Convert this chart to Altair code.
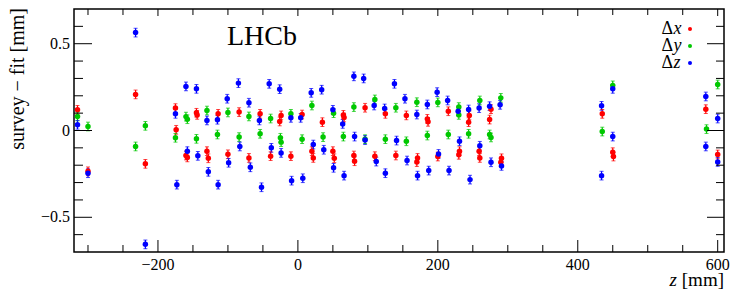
import altair as alt
import pandas as pd

# ---------------- data ----------------
series_names = ["Δx", "Δy", "Δz"]
series_letters = ["x", "y", "z"]
series_colors = ["#ff0000", "#00c800", "#0000ff"]

z_x = [-315, -300, -232, -218, -175, -174, -160, -158, -145, -144, -130, -128,
       -114, -100, -84, -70, -54, -39, -24, -26, -10, 6, 20, 22, 35, 50, 52,
       65, 66, 80, 81, 96, 110, 125, 140, 155, 171, 170, 185, 186, 200, 215,
       230, 231, 245, 244, 259, 260, 276, 274, 291, 290, 435, 450, 451, 583, 600]
d_x = [0.119, -0.235, 0.208, -0.192, 0.129, 0.004, -0.144, -0.155, 0.102, 0.090, -0.119, -0.160,
       0.096, -0.137, 0.106, -0.158, 0.096, -0.148, 0.087, 0.052, -0.148, 0.092, -0.119, -0.158,
       0.048, -0.119, -0.160, 0.090, 0.075, -0.144, -0.177, 0.131, -0.148, 0.096, -0.144, 0.087,
       -0.158, -0.182, 0.067, 0.050, -0.150, 0.111, -0.140, -0.119, 0.087, 0.048, -0.119, -0.158,
       0.123, 0.063, -0.160, -0.183, 0.096, -0.125, -0.150, 0.123, -0.138]

z_y = [-315, -300, -232, -218, -175, -160, -158, -145, -130, -115, -100, -84, -70, -54,
       -39, -25, -24, -10, 6, 20, 36, 51, 65, 80, 96, 110, 125, 140, 155, 170, 185, 200,
       215, 230, 230, 244, 260, 274, 276, 290, 435, 450, 584, 600]
d_y = [0.081, 0.023, -0.092, 0.027, -0.042, 0.080, 0.065, -0.048, 0.115, -0.023, 0.104, -0.038,
       0.081, -0.019, 0.069, -0.042, -0.067, 0.096, -0.050, 0.144, -0.038, 0.100, -0.035, 0.135,
       -0.050, 0.179, -0.050, 0.131, -0.062, 0.163, -0.029, 0.162, -0.023, 0.135, 0.090, -0.019,
       0.173, -0.023, -0.040, 0.188, -0.006, 0.260, 0.008, 0.265]

z_z = [-315, -300, -232, -218, -175, -173, -160, -158, -145, -143, -130, -128, -115, -114,
       -101, -99, -85, -83, -70, -68, -55, -52, -41, -38, -26, -24, -10, -9, 4, 7, 19, 22,
       34, 37, 50, 51, 64, 66, 80, 81, 94, 96, 109, 112, 124, 125, 138, 141, 153, 156, 170,
       171, 185, 187, 199, 201, 214, 216, 229, 231, 244, 246, 259, 260, 274, 276, 289, 291,
       434, 434, 450, 450, 583, 583, 600, 600]
d_z = [0.033, -0.246, 0.564, -0.656, 0.096, -0.312, 0.254, -0.119, 0.240, -0.146, 0.058, -0.238,
       0.062, -0.312, 0.183, -0.186, 0.273, -0.092, 0.160, -0.212, 0.058, -0.327, 0.269, -0.100,
       0.238, -0.129, 0.073, -0.289, 0.073, -0.275, 0.217, -0.081, 0.235, -0.111, 0.119, -0.215,
       0.038, -0.260, 0.312, -0.035, 0.300, -0.055, 0.144, -0.179, 0.127, -0.246, 0.269, -0.058,
       0.183, -0.173, 0.092, -0.260, 0.150, -0.231, 0.221, -0.135, 0.173, -0.231, 0.111, -0.062,
       0.121, -0.283, 0.129, -0.088, 0.140, -0.183, 0.148, -0.204, 0.142, -0.260, 0.240, -0.035,
       0.196, -0.092, 0.069, -0.181]

err = 0.025

x_major = [-200, 0, 200, 400, 600]
x_tick_labels = ["−200", "0", "200", "400", "600"]
x_minor = [-300, -250, -150, -100, -50, 50, 100, 150, 250, 300, 350, 450, 500, 550]
y_major = [-0.5, 0, 0.5]
y_tick_labels = ["−0.5", "0", "0.5"]
y_minor = [-0.6, -0.4, -0.3, -0.2, -0.1, 0.1, 0.2, 0.3, 0.4, 0.6]

x_domain = [-320, 609]
y_domain = [-0.7, 0.7]

W, H = 650, 243
SERIF = "Liberation Serif"

# ---------------- table ----------------
frames = []
for name, zs, ds in [(series_names[0], z_x, d_x), (series_names[1], z_y, d_y), (series_names[2], z_z, d_z)]:
    frames.append(pd.DataFrame({"series": name, "z": zs, "d": ds}))
df = pd.concat(frames, ignore_index=True)
df["lo"] = df["d"] - err
df["hi"] = df["d"] + err

xs = alt.Scale(domain=x_domain, nice=False, zero=False)
ys = alt.Scale(domain=y_domain, nice=False, zero=False)
cs = alt.Scale(domain=series_names, range=series_colors)

base = alt.Chart(df)
col = alt.Color("series:N", scale=cs, legend=None)

bars = base.mark_rule(strokeWidth=1.2).encode(
    x=alt.X("z:Q", scale=xs, axis=None),
    y=alt.Y("lo:Q", scale=ys, axis=None),
    y2="hi:Q",
    color=col,
)
caps_lo = base.mark_tick(orient="horizontal", size=4, thickness=1).encode(
    x=alt.X("z:Q", scale=xs, axis=None),
    y=alt.Y("lo:Q", scale=ys, axis=None),
    color=col,
)
caps_hi = base.mark_tick(orient="horizontal", size=4, thickness=1).encode(
    x=alt.X("z:Q", scale=xs, axis=None),
    y=alt.Y("hi:Q", scale=ys, axis=None),
    color=col,
)
points = base.mark_circle(size=30, opacity=1).encode(
    x=alt.X("z:Q", scale=xs, axis=None),
    y=alt.Y("d:Q", scale=ys, axis=None),
    color=col,
)

# ---------------- inward frame ticks (ROOT style), lengths converted to data units ----------------
kx = (x_domain[1] - x_domain[0]) / W
ky = (y_domain[1] - y_domain[0]) / H

xt_rows = []
for vals, lb, lt in [(x_major, 12, 7), (x_minor, 7, 6)]:
    for v in vals:
        xt_rows.append({"t": v, "a": y_domain[0], "b": y_domain[0] + lb * ky})
        xt_rows.append({"t": v, "a": y_domain[1], "b": y_domain[1] - lt * ky})
yt_rows = []
for vals, ll, lr in [(y_major, 18, 17), (y_minor, 9, 8)]:
    for v in vals:
        yt_rows.append({"t": v, "a": x_domain[0], "b": x_domain[0] + ll * kx})
        yt_rows.append({"t": v, "a": x_domain[1], "b": x_domain[1] - lr * kx})

xticks = alt.Chart(pd.DataFrame(xt_rows)).mark_rule(color="black", strokeWidth=1).encode(
    x=alt.X("t:Q", scale=xs, axis=None), y=alt.Y("a:Q", scale=ys, axis=None), y2="b:Q")
yticks = alt.Chart(pd.DataFrame(yt_rows)).mark_rule(color="black", strokeWidth=1).encode(
    y=alt.Y("t:Q", scale=ys, axis=None), x=alt.X("a:Q", scale=xs, axis=None), x2="b:Q")

# ---------------- tick labels placed through the scales ----------------
xlabels = alt.Chart(pd.DataFrame({"t": x_major, "lab": x_tick_labels})).mark_text(
    font=SERIF, fontSize=16, align="center", baseline="top", color="black").encode(
    x=alt.X("t:Q", scale=xs, axis=None), y=alt.value(H + 5), text="lab:N")
ylabels = alt.Chart(pd.DataFrame({"t": y_major, "lab": y_tick_labels})).mark_text(
    font=SERIF, fontSize=16, align="right", baseline="middle", color="black").encode(
    y=alt.Y("t:Q", scale=ys, axis=None), x=alt.value(-4), text="lab:N")

one = alt.Chart(pd.DataFrame({"a": [0]}))

ytitle = one.mark_text(text="survey − fit [mm]", font=SERIF, fontSize=20, angle=270,
                       align="right", baseline="middle", color="black").encode(
    x=alt.value(-56), y=alt.value(-1))

lhcb = one.mark_text(text="LHCb", font=SERIF, fontSize=28, align="center",
                     baseline="alphabetic", color="black").encode(
    x=alt.value(188), y=alt.value(36))

xt_unit = one.mark_text(text="[mm]", font=SERIF, fontSize=19, align="right",
                        baseline="alphabetic", color="black").encode(
    x=alt.value(W), y=alt.value(277))
xt_var = one.mark_text(text="z", font=SERIF, fontSize=19, fontStyle="italic",
                       align="right", baseline="alphabetic", color="black").encode(
    x=alt.value(603), y=alt.value(277))

legend_layers = []
for i, (letter, c) in enumerate(zip(series_letters, series_colors)):
    yy = 20 + 17 * i
    legend_layers.append(one.mark_text(text="Δ", font=SERIF, fontSize=18, align="right",
                                       baseline="middle", color="black").encode(
        x=alt.value(599), y=alt.value(yy)))
    legend_layers.append(one.mark_text(text=letter, font=SERIF, fontSize=18, fontStyle="italic",
                                       align="left", baseline="middle", color="black").encode(
        x=alt.value(599.5), y=alt.value(yy)))
    legend_layers.append(one.mark_circle(size=16, color=c, opacity=1).encode(
        x=alt.value(616), y=alt.value(yy)))

chart = alt.layer(
    bars, caps_lo, caps_hi, points, xticks, yticks, xlabels, ylabels, ytitle,
    lhcb, xt_unit, xt_var, *legend_layers
).properties(
    width=W, height=H,
    padding={"left": 66, "top": 1, "right": 15, "bottom": 37},
    autosize=alt.AutoSizeParams(type="none"),
).configure_view(stroke="black", strokeWidth=1.5)

chart.save("out.html", embed_options={"renderer": "svg", "actions": False})
